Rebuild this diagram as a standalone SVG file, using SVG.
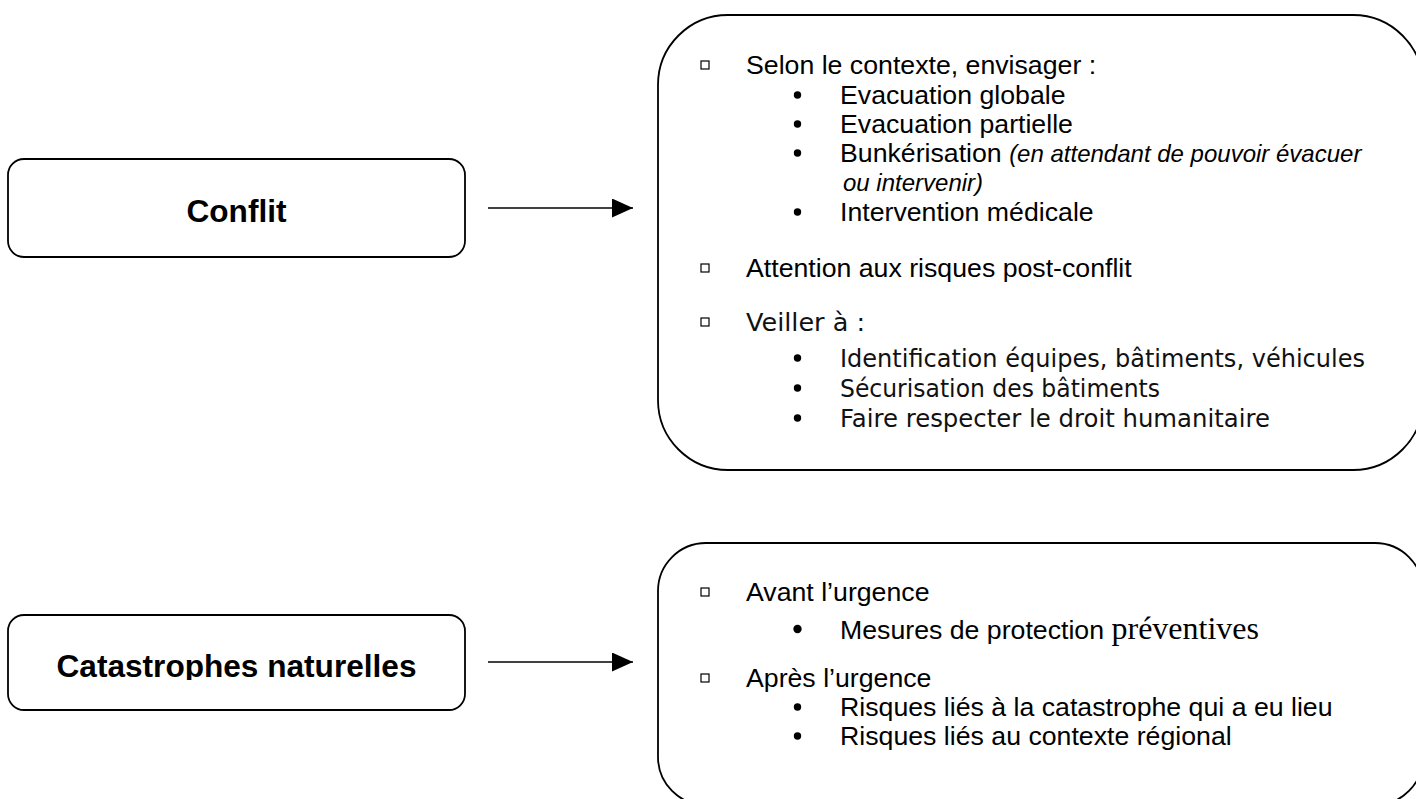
<svg xmlns="http://www.w3.org/2000/svg" width="1416" height="799" viewBox="0 0 1416 799">
<style>
.box{fill:#fff;stroke:#000;stroke-width:1.8}
.lbl{font-family:"Liberation Sans",Arial,sans-serif;font-weight:bold;font-size:31.6px;fill:#000}
.t{font-family:"Liberation Sans",Arial,sans-serif;font-size:26.7px;fill:#000}
.it{font-style:italic;font-size:24px}
.tw{font-family:"DejaVu Sans",Verdana,sans-serif;font-size:24.5px;fill:#111}
.tr{font-family:"Liberation Serif","Times New Roman",serif;font-size:32px}
.sq{fill:none;stroke:#000;stroke-width:1.2}
.dot{fill:#000}
.conn{stroke:#000;stroke-width:1.6;fill:none}
</style>
<defs>
<marker id="ah" markerWidth="21" markerHeight="19" refX="21" refY="9.5" orient="auto" markerUnits="userSpaceOnUse">
<path d="M0,0 L21,9.5 L0,19 Z" fill="#000"/>
</marker>
<clipPath id="clipCat"><rect x="0" y="600" width="480" height="80"/></clipPath>
</defs>
<rect width="1416" height="799" fill="#fff"/>

<g id="node-conflit">
<rect class="box" x="8" y="159" width="457" height="98" rx="16"/>
<text class="lbl" x="236.5" y="222" text-anchor="middle">Conflit</text>
</g>

<g id="node-catastrophes">
<rect class="box" x="8" y="615" width="457" height="95" rx="16"/>
<g clip-path="url(#clipCat)">
<text class="lbl" x="236.5" y="677" text-anchor="middle">Catastrophes naturelles</text>
</g>
</g>

<g id="connectors">
<line class="conn" x1="488" y1="208" x2="633" y2="208" marker-end="url(#ah)"/>
<line class="conn" x1="488" y1="662" x2="633" y2="662" marker-end="url(#ah)"/>
</g>

<g id="node-conflit-actions">
<rect class="box" x="658" y="15" width="765" height="455" rx="70"/>
<rect class="sq" x="701" y="61" width="8" height="8"/>
<rect class="sq" x="701" y="264" width="8" height="8"/>
<rect class="sq" x="701" y="318" width="8" height="8"/>
<circle class="dot" cx="797.5" cy="95" r="3.7"/>
<circle class="dot" cx="797.5" cy="124" r="3.7"/>
<circle class="dot" cx="797.5" cy="153" r="3.7"/>
<circle class="dot" cx="797.5" cy="212" r="3.7"/>
<circle class="dot" cx="797.5" cy="358" r="3.7"/>
<circle class="dot" cx="797.5" cy="388" r="3.7"/>
<circle class="dot" cx="797.5" cy="418" r="3.7"/>
<text class="t" x="746" y="74">Selon le contexte, envisager :</text>
<text class="t" x="840" y="104">Evacuation globale</text>
<text class="t" x="840" y="133">Evacuation partielle</text>
<text class="t" x="840" y="162">Bunkérisation <tspan class="it">(en attendant de pouvoir évacuer</tspan></text>
<text class="t it" x="843" y="191">ou intervenir)</text>
<text class="t" x="840" y="221">Intervention médicale</text>
<text class="t" x="746" y="277">Attention aux risques post-conflit</text>
<text class="tw" x="746" y="331" textLength="119" lengthAdjust="spacingAndGlyphs">Veiller à :</text>
<text class="tw" x="840" y="367" textLength="525" lengthAdjust="spacingAndGlyphs">Identification équipes, bâtiments, véhicules</text>
<text class="tw" x="840" y="397" textLength="320" lengthAdjust="spacingAndGlyphs">Sécurisation des bâtiments</text>
<text class="tw" x="840" y="427" textLength="430" lengthAdjust="spacingAndGlyphs">Faire respecter le droit humanitaire</text>
</g>

<g id="node-catastrophes-actions">
<rect class="box" x="658" y="543" width="765" height="262" rx="48"/>
<rect class="sq" x="701" y="588" width="8" height="8"/>
<rect class="sq" x="701" y="674" width="8" height="8"/>
<circle class="dot" cx="797.5" cy="629" r="4.2"/>
<circle class="dot" cx="797.5" cy="707" r="3.7"/>
<circle class="dot" cx="797.5" cy="736" r="3.7"/>
<text class="t" x="746" y="601">Avant l’urgence</text>
<text class="t" x="840" y="639">Mesures de protection <tspan class="tr">préventives</tspan></text>
<text class="t" x="746" y="687">Après l’urgence</text>
<text class="t" x="840" y="716">Risques liés à la catastrophe qui a eu lieu</text>
<text class="t" x="840" y="745">Risques liés au contexte régional</text>
</g>
</svg>
